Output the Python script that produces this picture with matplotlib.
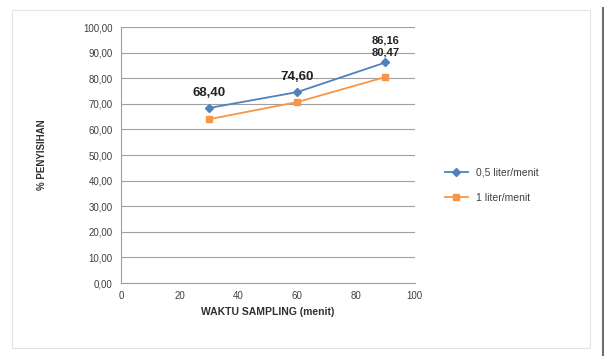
import matplotlib.pyplot as plt
from matplotlib.patches import Rectangle
from matplotlib.lines import Line2D
from matplotlib.ticker import FuncFormatter

waktu = [30, 60, 90]
laju_05 = [68.40, 74.60, 86.16]
laju_1 = [64.00, 70.70, 80.47]
label_05 = ["68,40", "74,60", "86,16"]
label_1 = ["80,47"]  # only the last orange label is visible in the reference
nama_seri = ["0,5 liter/menit", "1 liter/menit"]

plt.rcParams['font.family'] = ['Liberation Sans', 'DejaVu Sans']

fig = plt.figure(figsize=(6.09, 3.56), dpi=100)
ax = fig.add_axes([0.199, 0.205, 0.482, 0.719])

ax.plot(waktu, laju_05, color='#4F81BD', marker='D', markersize=4, lw=1.3, label=nama_seri[0])
ax.plot(waktu, laju_1, color='#F79646', marker='s', markersize=5, lw=1.3, label=nama_seri[1])

# data labels
for i, (x, y, t) in enumerate(zip(waktu, laju_05, label_05)):
    dy = 11 if i < 2 else 16
    fs = 9.5 if i < 2 else 8
    ax.annotate(t, (x, y), xytext=(0, dy), textcoords='offset points', ha='center', va='center',
                fontsize=fs, fontweight='bold', color='#222222')
ax.annotate(label_1[0], (waktu[-1], laju_05[-1]), xytext=(0, 7), textcoords='offset points',
            ha='center', va='center', fontsize=8, fontweight='bold', color='#222222')

ax.set_xlim(0, 100)
ax.set_ylim(0, 100)
ax.set_xticks(range(0, 101, 20))
ax.set_yticks(range(0, 101, 10))
ax.yaxis.set_major_formatter(FuncFormatter(lambda v, p: f"{v:.2f}".replace('.', ',')))
ax.grid(axis='y', color='#A0A0A0', lw=0.8)
ax.set_axisbelow(True)
for s in ['top', 'right']:
    ax.spines[s].set_visible(False)
ax.spines['left'].set_color('#A0A0A0')
ax.spines['bottom'].set_color('#A0A0A0')
ax.tick_params(length=0, labelsize=7, colors='#404040', pad=6)

ax.set_xlabel("WAKTU SAMPLING (menit)", fontsize=7.5, fontweight='bold', color='#303030')
ax.set_ylabel("% PENYISIHAN", fontsize=7, fontweight='bold', color='#303030', labelpad=26)

fig.legend(loc='center left', bbox_to_anchor=(0.715, 0.48), frameon=False,
           fontsize=7.5, labelspacing=1.5, handlelength=2.2, labelcolor='#404040')

# chart border
fig.add_artist(Rectangle((12 / 609, 1 - 348 / 356), 578 / 609, 338 / 356,
                         transform=fig.transFigure, fill=False, ec='#E4E4E4', lw=0.8))
fig.add_artist(Line2D([603 / 609, 603 / 609], [0, 1 - 8 / 356], transform=fig.transFigure,
                      color='#707070', lw=1.5))

fig.savefig("out.png", dpi=100)
